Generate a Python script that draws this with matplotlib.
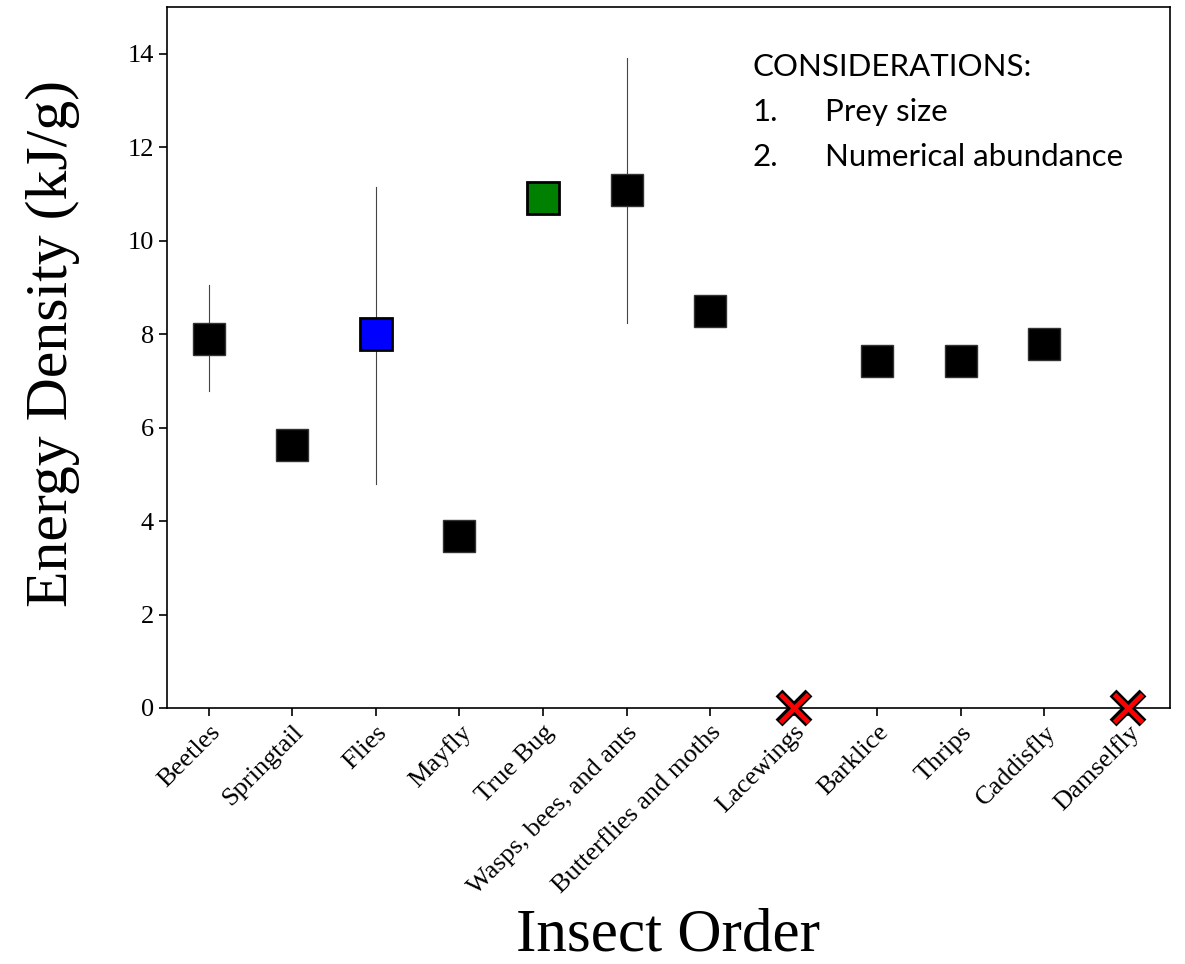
import matplotlib
matplotlib.use("Agg")
import matplotlib.pyplot as plt

orders = ["Beetles", "Springtail", "Flies", "Mayfly", "True Bug",
          "Wasps, bees, and ants", "Butterflies and moths", "Lacewings",
          "Barklice", "Thrips", "Caddisfly", "Damselfly"]
energy = [7.9, 5.62, 8.0, 3.68, 10.92, 11.08, 8.5, 0.0, 7.42, 7.42, 7.78, 0.0]
err_low = [6.78, None, 4.8, None, None, 8.23, None, None, None, None, None, None]
err_high = [9.05, None, 11.15, None, None, 13.92, None, None, None, None, None, None]
face = ["black", "black", "blue", "black", "green", "black", "black", None,
        "black", "black", "black", None]
missing = [False] * 7 + [True] + [False] * 3 + [True]

plt.rcParams['font.family'] = ['Liberation Serif', 'DejaVu Serif']

fig = plt.figure(figsize=(11.85, 9.64), dpi=100)
ax = fig.add_axes([0.141, 0.2656, 0.846, 0.7271])

for i, name in enumerate(orders):
    if err_low[i] is not None:
        ax.plot([i, i], [err_low[i], err_high[i]], color="#444444", lw=0.8, zorder=1)
    if missing[i]:
        # red cross with black outline
        ax.plot(i, energy[i], marker="x", markersize=22, markeredgecolor="black",
                markeredgewidth=7, linestyle="none", zorder=3, clip_on=False)
        ax.plot(i, energy[i], marker="x", markersize=20.5, markeredgecolor="red",
                markeredgewidth=3.5, linestyle="none", zorder=4, clip_on=False)
    else:
        edge = "black" if face[i] != "black" else "#333333"
        ew = 2.0 if face[i] != "black" else 1.0
        ax.plot(i, energy[i], marker="s", markersize=23, markerfacecolor=face[i],
                markeredgecolor=edge, markeredgewidth=ew, linestyle="none", zorder=2)

ax.set_xlim(-0.5, len(orders) - 0.5)
ax.set_ylim(0, 15)
ax.set_yticks(range(0, 15, 2))
ax.set_xticks(range(len(orders)))
ax.set_xticklabels(orders, rotation=45, ha="right", rotation_mode="anchor", fontsize=19)
ax.tick_params(axis="y", labelsize=19, length=6, width=1.2)
ax.tick_params(axis="x", length=6, width=1.2)
for s in ax.spines.values():
    s.set_linewidth(1.2)

ax.set_ylabel("Energy Density (kJ/g)", fontsize=43, va="center")
ax.yaxis.set_label_coords(-0.114, 0.52)
ax.set_xlabel("Insect Order", fontsize=44, va="center")
ax.xaxis.set_label_coords(0.5, -0.325)

# considerations note
note_font = ["Lato", "DejaVu Sans"]
ax.text(0.584, 0.914, "CONSIDERATIONS:", transform=ax.transAxes, fontsize=22.5,
        family=note_font, va="center", ha="left")
ax.text(0.584, 0.850, "1.", transform=ax.transAxes, fontsize=22.5,
        family=note_font, va="center", ha="left")
ax.text(0.656, 0.850, "Prey size", transform=ax.transAxes, fontsize=22.5,
        family=note_font, va="center", ha="left")
ax.text(0.584, 0.786, "2.", transform=ax.transAxes, fontsize=22.5,
        family=note_font, va="center", ha="left")
ax.text(0.656, 0.786, "Numerical abundance", transform=ax.transAxes, fontsize=22.5,
        family=note_font, va="center", ha="left")

fig.savefig("out.png", dpi=100)
